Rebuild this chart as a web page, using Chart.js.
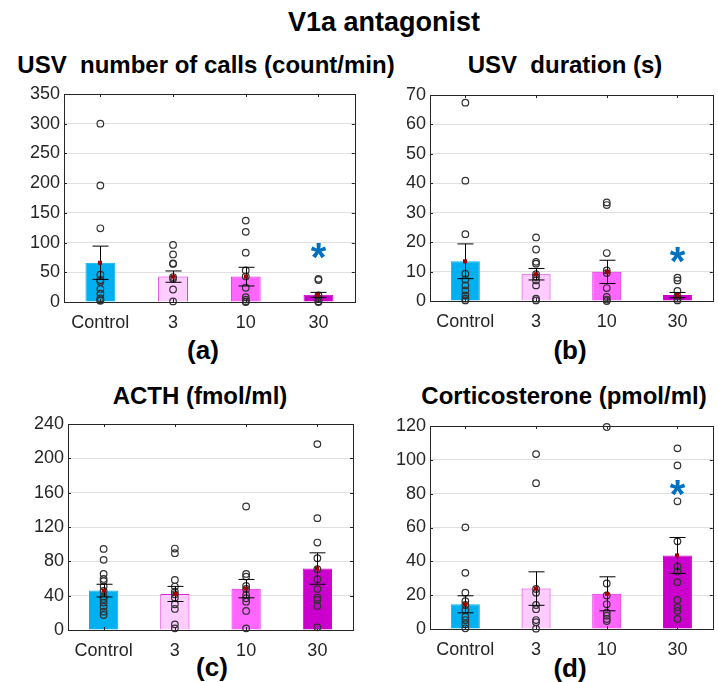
<!DOCTYPE html>
<html>
<head>
<meta charset="utf-8">
<script src="https://cdn.jsdelivr.net/npm/chart.js@4.4.0/dist/chart.umd.min.js"></script>
<style>
  body { margin: 0; background: #fff; }
  #wrap { position: relative; width: 718px; height: 682px; overflow: hidden; font-family: "Liberation Sans", Arial, sans-serif; }
  canvas { position: absolute; }
  .t { position: absolute; font-weight: bold; color: #000; white-space: pre; transform: translate(-50%, -50%); }
</style>
</head>
<body>
<div id="wrap">
  <div class="t" style="left:384px;top:22px;font-size:27px">V1a antagonist</div>
  <div class="t" style="left:206px;top:65px;font-size:24px">USV  number of calls (count/min)</div>
  <div class="t" style="left:565px;top:65px;font-size:24px">USV  duration (s)</div>
  <div class="t" style="left:200px;top:396px;font-size:24px">ACTH (fmol/ml)</div>
  <div class="t" style="left:564px;top:396px;font-size:24px">Corticosterone (pmol/ml)</div>
  <div class="t" style="left:203px;top:350px;font-size:26px">(a)</div>
  <div class="t" style="left:570px;top:350px;font-size:26px">(b)</div>
  <div class="t" style="left:212px;top:667px;font-size:26px">(c)</div>
  <div class="t" style="left:570px;top:668px;font-size:26px">(d)</div>
  <canvas id="ca" width="360" height="260" style="left:0;top:75px"></canvas>
  <canvas id="cb" width="358" height="260" style="left:360px;top:75px"></canvas>
  <canvas id="cc" width="360" height="260" style="left:0;top:405px"></canvas>
  <canvas id="cd" width="358" height="260" style="left:360px;top:405px"></canvas>
</div>
<script>
const groups = ['Control', '3', '10', '30'];
const barFill = ['#00b0f0', '#ffccff', '#ff66ff', '#cc00cc'];
const barEdge = ['#00b0f0', '#dd22dd', '#dd22dd', '#cc00cc'];

// (a) USV number of calls
const callsMean = [66, 42.7, 42.7, 12];
const callsSem = [28, 9.5, 15.7, 4.2];
const callsPts = [
  [300, 196, 124, 46, 37, 34, 22, 14, 6, 3, 2],
  [96, 80, 65, 64, 42, 39, 21, 1],
  [137, 118, 83, 53, 43, 24, 8, 4, 1, 0],
  [39, 37, 11, 6, 1, 0],
];
const callsStar = [null, null, null, 90];

// (b) USV duration
const durMean = [13.5, 9.1, 9.9, 2.0];
const durSem = [5.9, 1.95, 3.95, 0.9];
const durPts = [
  [67.4, 40.9, 22.7, 9.3, 7.3, 5.3, 3.6, 1.9, 0.8, 0.2],
  [21.6, 17.5, 13.3, 12.7, 9.1, 8.2, 7, 5.3, 0.8, 0.2],
  [33.5, 32.6, 16.3, 10.4, 9.5, 4.4, 1.4, 0.5, 0],
  [7.9, 7, 3.4, 1.6, 0.8, 0.2],
];
const durStar = [null, null, null, 16.3];

// (c) ACTH
const acthMean = [45.9, 42, 48.2, 71.6];
const acthSem = [7.4, 8.8, 10.7, 18.3];
const acthPts = [
  [94.5, 81.7, 65.3, 59.5, 57, 50.6, 45.5, 38.9, 36.2, 31.9, 27.2, 21.4, 17.5],
  [94.9, 89.5, 58.3, 50.6, 44.7, 41.6, 37.7, 30, 24.5, 6.6, 1.9],
  [143.9, 65.3, 62.2, 51.3, 47.8, 40.8, 37, 33, 22.2, 1.9],
  [216.6, 130.3, 101.9, 83.6, 70.8, 59.1, 47.8, 37.7, 35, 28, 3.1],
];
const acthStar = [null, null, null, null];

// (d) Corticosterone
const cortMean = [14.6, 23.9, 20.8, 43.5];
const cortSem = [5.05, 9.9, 10.05, 10.6];
const cortPts = [
  [60.1, 33.2, 21.5, 16.4, 14.2, 11.3, 7.3, 5.3, 2.8, 0.4],
  [103.4, 86.2, 23.7, 21.5, 14.2, 11.7, 5.3, 4, 0.2],
  [119.4, 26.9, 19.8, 14.6, 9.7, 7.9, 5.9, 4.7],
  [106.8, 96.7, 75.5, 51.8, 37, 34, 27.7, 17.2, 12.9, 10.7, 5.9],
];
const cortStar = [null, null, null, 84.5];

// error bars, mean marker, asterisks, box + inward ticks (matlab look)
const extras = {
  id: 'extras',
  afterDatasetsDraw(chart, args, opts) {
    const { ctx, scales: { x, y } } = chart;
    ctx.save();
    ctx.strokeStyle = '#000';
    ctx.lineWidth = 1;
    opts.mean.forEach((m, i) => {
      const px = Math.round(x.getPixelForValue(i)) + 0.5;
      const hi = y.getPixelForValue(m + opts.sem[i]);
      const lo = y.getPixelForValue(m - opts.sem[i]);
      ctx.beginPath();
      ctx.moveTo(px, hi); ctx.lineTo(px, lo);
      ctx.moveTo(px - 8, hi); ctx.lineTo(px + 8, hi);
      ctx.moveTo(px - 8, lo); ctx.lineTo(px + 8, lo);
      ctx.stroke();
      ctx.fillStyle = '#a00000';
      ctx.fillRect(px - 2.5, y.getPixelForValue(m) - 2, 4, 4);
    });
    ctx.fillStyle = '#0070c0';
    ctx.font = 'bold 40px "Liberation Sans", Arial';
    ctx.textAlign = 'center';
    ctx.textBaseline = 'alphabetic';
    opts.star.forEach((s, i) => {
      if (s == null) return;
      ctx.fillText('*', x.getPixelForValue(i), y.getPixelForValue(s) + 22);
    });
    ctx.restore();
  },
  afterDraw(chart) {
    const { ctx, chartArea: a, scales: { x, y } } = chart;
    ctx.save();
    ctx.strokeStyle = '#262626';
    ctx.lineWidth = 1;
    ctx.strokeRect(Math.round(a.left) + 0.5, Math.round(a.top) + 0.5,
      Math.round(a.right - a.left), Math.round(a.bottom - a.top));
    ctx.beginPath();
    y.ticks.forEach((t) => {
      const py = Math.round(y.getPixelForValue(t.value)) + 0.5;
      ctx.moveTo(a.left, py); ctx.lineTo(a.left + 3, py);
      ctx.moveTo(a.right, py); ctx.lineTo(a.right - 3, py);
    });
    groups.forEach((g, i) => {
      const px = Math.round(x.getPixelForValue(i)) + 0.5;
      ctx.moveTo(px, a.bottom); ctx.lineTo(px, a.bottom - 3);
      ctx.moveTo(px, a.top); ctx.lineTo(px, a.top + 3);
    });
    ctx.stroke();
    ctx.restore();
  },
};

function panel(id, mean, sem, pts, star, max, step, box) {
  const scatter = [];
  pts.forEach((list, i) => list.forEach((v) => scatter.push({ x: groups[i], y: v })));
  return new Chart(document.getElementById(id), {
    type: 'bar',
    data: {
      labels: groups,
      datasets: [
        {
          type: 'line',
          data: scatter,
          showLine: false,
          pointRadius: 3.3,
          pointBorderWidth: 1.2,
          pointBorderColor: '#333',
          pointBackgroundColor: 'rgba(0,0,0,0)',
          clip: false,
          order: 1,
        },
        {
          data: mean,
          backgroundColor: barFill,
          borderColor: barEdge,
          borderWidth: 1,
          barPercentage: 0.41,
          categoryPercentage: 1,
          order: 2,
        },
      ],
    },
    options: {
      responsive: false,
      animation: false,
      devicePixelRatio: 1,
      layout: { padding: { top: box.top, right: box.right, left: 0, bottom: 0 } },
      plugins: {
        legend: { display: false },
        tooltip: { enabled: false },
        extras: { mean, sem, star },
      },
      scales: {
        x: {
          grid: { display: false },
          border: { display: false },
          ticks: { color: '#262626', font: { size: 18, family: '"Liberation Sans", Arial' }, padding: 2, maxRotation: 0 },
          afterFit: (s) => { s.height = box.bottom; },
        },
        y: {
          min: 0,
          max,
          ticks: { stepSize: step, color: '#262626', font: { size: 18, family: '"Liberation Sans", Arial' }, padding: 4 },
          grid: { color: '#e0e0e0', drawTicks: false },
          border: { display: false },
          afterFit: (s) => { s.width = box.left; },
        },
      },
    },
    plugins: [extras],
  });
}

panel('ca', callsMean, callsSem, callsPts, callsStar, 350, 50, { left: 64, right: 5, top: 19, bottom: 33 });
panel('cb', durMean, durSem, durPts, durStar, 70, 10, { left: 70, right: 5, top: 20, bottom: 34 });
panel('cc', acthMean, acthSem, acthPts, acthStar, 240, 40, { left: 68, right: 7, top: 19, bottom: 35 });
panel('cd', cortMean, cortSem, cortPts, cortStar, 120, 20, { left: 70, right: 4, top: 21, bottom: 36 });
</script>
</body>
</html>
